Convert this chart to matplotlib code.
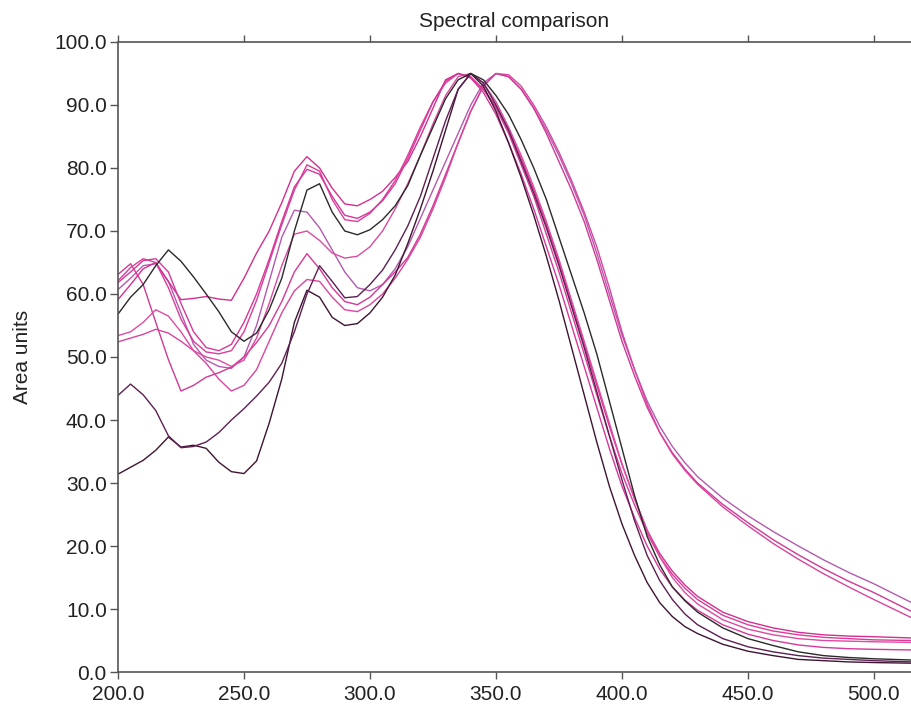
import matplotlib
matplotlib.use("Agg")
import matplotlib.pyplot as plt

# wavelength grid (nm) shared by every spectrum
wavelength = [200, 205, 210, 215, 220, 225, 230, 235, 240, 245, 250, 255, 260, 265, 270,
              275, 280, 285, 290, 295, 300, 305, 310, 315, 320, 325, 330, 335, 340, 345,
              350, 355, 360, 365, 370, 375, 380, 385, 390, 395, 400, 405, 410, 415, 420,
              425, 430, 440, 450, 460, 470, 480, 490, 500, 515]

# black spectrum
spec_black = [56.8, 59.5, 61.5, 64.5, 67.0, 65.2, 62.7, 60.0, 57.2, 54.0, 52.5, 53.8, 57.5, 62.5, 70.0,
              76.5, 77.5, 73.0, 70.0, 69.4, 70.2, 71.8, 74.0, 77.2, 82.0, 86.5, 91.0, 94.0, 95.0, 94.0,
              91.5, 88.5, 84.5, 80.0, 75.0, 69.0, 63.0, 57.0, 50.5, 43.0, 35.5, 28.0, 21.5, 17.0, 13.5,
              11.3, 9.5, 7.0, 5.3, 4.2, 3.2, 2.6, 2.3, 2.1, 1.9]
# dark purple spectrum
spec_dark = [43.9, 45.7, 44.0, 41.5, 37.5, 35.6, 35.8, 36.5, 38.0, 40.0, 41.8, 43.8, 46.0, 49.0, 54.0,
             60.0, 64.5, 62.0, 59.4, 59.6, 61.5, 63.8, 67.0, 70.8, 75.5, 81.5, 87.5, 92.5, 95.0, 93.5,
             90.0, 86.0, 81.0, 76.0, 70.5, 64.5, 58.0, 51.5, 44.5, 37.5, 30.5, 24.0, 18.5, 14.5, 11.5,
             9.2, 7.5, 5.3, 4.0, 3.2, 2.6, 2.2, 2.0, 1.8, 1.6]
# plum spectrum (lowest at 200 nm)
spec_plum = [31.4, 32.5, 33.6, 35.2, 37.3, 35.7, 36.0, 35.5, 33.3, 31.8, 31.5, 33.5, 39.5, 46.5, 55.5,
             60.6, 59.5, 56.3, 55.0, 55.3, 57.0, 59.5, 63.0, 68.0, 73.5, 79.5, 86.0, 92.5, 95.0, 93.0,
             89.0, 84.0, 78.5, 72.5, 66.0, 59.0, 51.5, 44.0, 36.5, 29.5, 23.5, 18.5, 14.2, 11.0, 8.8,
             7.2, 6.1, 4.4, 3.3, 2.6, 2.0, 1.8, 1.6, 1.5, 1.4]
# magenta spectra, main group (peak ~335 nm)
spec_p1 = [59.1, 61.5, 64.0, 65.0, 62.0, 59.1, 59.3, 59.6, 59.2, 59.0, 62.5, 66.5, 70.0, 74.5, 79.5,
           81.8, 80.0, 76.8, 74.3, 74.0, 75.0, 76.3, 78.5, 81.0, 85.0, 89.5, 94.0, 95.0, 94.3, 92.5,
           89.8, 86.0, 81.5, 76.5, 71.0, 65.0, 58.5, 52.0, 45.5, 39.0, 33.0, 27.5, 22.5, 18.8, 16.0,
           13.8, 12.0, 9.5, 8.0, 7.0, 6.3, 5.9, 5.7, 5.6, 5.4]
spec_p2 = [62.1, 64.2, 65.6, 65.0, 61.0, 56.0, 52.5, 50.8, 50.5, 51.0, 54.0, 59.0, 65.0, 71.0, 76.5,
           80.5, 79.5, 75.0, 71.8, 71.5, 72.8, 75.0, 78.0, 82.0, 86.5, 90.5, 93.5, 95.0, 94.5, 92.5,
           89.5, 85.5, 80.5, 75.5, 69.5, 63.5, 57.0, 50.5, 44.0, 37.5, 31.5, 26.5, 22.0, 18.3, 15.5,
           13.3, 11.5, 9.0, 7.5, 6.5, 5.9, 5.5, 5.3, 5.1, 5.0]
spec_p4 = [53.4, 54.0, 55.5, 57.5, 56.5, 54.0, 51.0, 50.0, 49.5, 48.5, 49.5, 53.0, 58.5, 64.5, 69.5,
           70.0, 68.5, 66.5, 65.7, 66.0, 67.5, 70.0, 73.5, 77.5, 82.0, 87.0, 91.5, 94.5, 95.0, 93.5,
           90.5, 86.5, 82.0, 77.0, 71.5, 65.5, 59.0, 52.5, 46.0, 39.5, 33.0, 27.5, 22.5, 18.3, 15.0,
           12.6, 10.8, 8.3, 6.8, 5.9, 5.3, 5.0, 4.9, 4.8, 4.7]
spec_p7 = [61.8, 63.5, 65.3, 65.6, 63.5, 58.5, 54.0, 51.5, 51.0, 52.0, 55.5, 60.0, 65.5, 71.5, 77.0,
           79.8, 79.0, 75.5, 72.5, 72.0, 73.0, 74.8, 77.5, 81.5, 86.0, 90.5, 93.8, 95.0, 94.3, 92.0,
           88.5, 84.0, 79.0, 73.5, 67.5, 61.5, 55.0, 48.5, 42.0, 35.5, 29.5, 24.5, 20.0, 16.3, 13.5,
           11.4, 9.8, 7.5, 6.0, 5.0, 4.3, 3.9, 3.7, 3.6, 3.5]
# red-shifted spectra (peak ~350 nm, high tails)
spec_p3 = [60.7, 62.5, 64.5, 64.8, 62.0, 57.0, 52.0, 49.5, 48.5, 48.2, 50.0, 55.0, 62.0, 69.0, 73.3,
           73.0, 70.5, 67.0, 63.5, 61.0, 60.5, 61.5, 64.0, 67.5, 72.0, 76.5, 81.0, 85.5, 90.0, 93.5,
           95.0, 94.5, 92.5, 89.5, 86.0, 82.0, 77.5, 72.5, 66.5, 60.0, 53.5, 48.0, 43.0, 39.0, 35.8,
           33.2, 31.0, 27.6, 24.8, 22.3, 20.0, 17.8, 15.8, 14.0, 11.0]
spec_p5 = [63.1, 64.8, 61.5, 55.5, 49.6, 44.6, 45.5, 46.8, 47.5, 48.4, 50.0, 52.3, 55.0, 58.8, 63.5,
           66.4, 64.0, 61.0, 58.8, 58.3, 59.5, 61.5, 63.5, 65.8, 69.5, 74.0, 79.0, 84.0, 89.0, 93.0,
           95.0, 94.5, 92.5, 89.5, 85.5, 81.0, 76.5, 71.5, 65.5, 59.0, 52.5, 47.0, 42.0, 38.0, 34.8,
           32.2, 30.0, 26.6, 23.7, 21.0, 18.6, 16.4, 14.4, 12.6, 9.6]
spec_p6 = [52.4, 53.0, 53.6, 54.4, 53.8, 52.5, 51.0, 49.0, 46.5, 44.6, 45.5, 48.0, 52.5, 57.0, 60.5,
           62.3, 62.0, 59.5, 57.5, 57.2, 58.3, 60.0, 62.5, 65.5, 69.0, 73.5, 78.5, 84.0, 89.0, 93.0,
           95.0, 94.8, 93.0, 90.0, 86.5, 82.5, 78.0, 73.0, 67.5, 61.0, 54.0, 48.0, 42.5, 38.0, 34.6,
           32.0, 29.8, 26.2, 23.2, 20.4, 17.9, 15.6, 13.5, 11.5, 8.6]

x_ticks = [200, 250, 300, 350, 400, 450, 500]
y_ticks = [0, 10, 20, 30, 40, 50, 60, 70, 80, 90, 100]


def main():
    plt.rcParams['font.family'] = ['Liberation Sans', 'DejaVu Sans']

    fig = plt.figure(figsize=(9.11, 7.07), dpi=100)
    ax = fig.add_axes([0.1295, 0.0495, 0.8705, 0.8911])

    # pink ones first, dark ones on top
    pinks = [(spec_p3, '#b35aae'), (spec_p5, '#d23896'), (spec_p6, '#d8449e'),
             (spec_p1, '#d42f90'), (spec_p2, '#da3c9a'), (spec_p4, '#dd4aa2'),
             (spec_p7, '#d6389a')]
    for vals, col in pinks:
        ax.plot(wavelength, vals, color=col, lw=1.0)
    ax.plot(wavelength, spec_plum, color='#3e1432', lw=1.0)
    ax.plot(wavelength, spec_dark, color='#5e1f52', lw=1.0)
    ax.plot(wavelength, spec_black, color='#2a2a2a', lw=1.0)

    ax.set_xlim(200, 514.7)
    ax.set_ylim(0, 100)
    ax.set_xticks(x_ticks)
    ax.set_yticks(y_ticks)
    ax.set_xticklabels(['%.1f' % v for v in x_ticks])
    ax.set_yticklabels(['%.1f' % v for v in y_ticks])

    # frame: left, bottom, top; right side cut off
    ax.spines['right'].set_visible(False)
    for side in ['left', 'bottom', 'top']:
        ax.spines[side].set_color('#555555')
        ax.spines[side].set_linewidth(1.2)
    ax.tick_params(axis='both', direction='out', colors='#555555', labelcolor='#222222',
                   labelsize=15, width=1.0)
    ax.tick_params(axis='y', length=6, pad=2)
    ax.tick_params(axis='x', length=5, pad=4, top=True)

    ax.set_title('Spectral comparison', fontsize=15, color='#222222', pad=11)
    ax.set_ylabel('Area units', fontsize=15, color='#222222', labelpad=16)

    fig.savefig('out.png', dpi=100)


if __name__ == "__main__":
    main()
